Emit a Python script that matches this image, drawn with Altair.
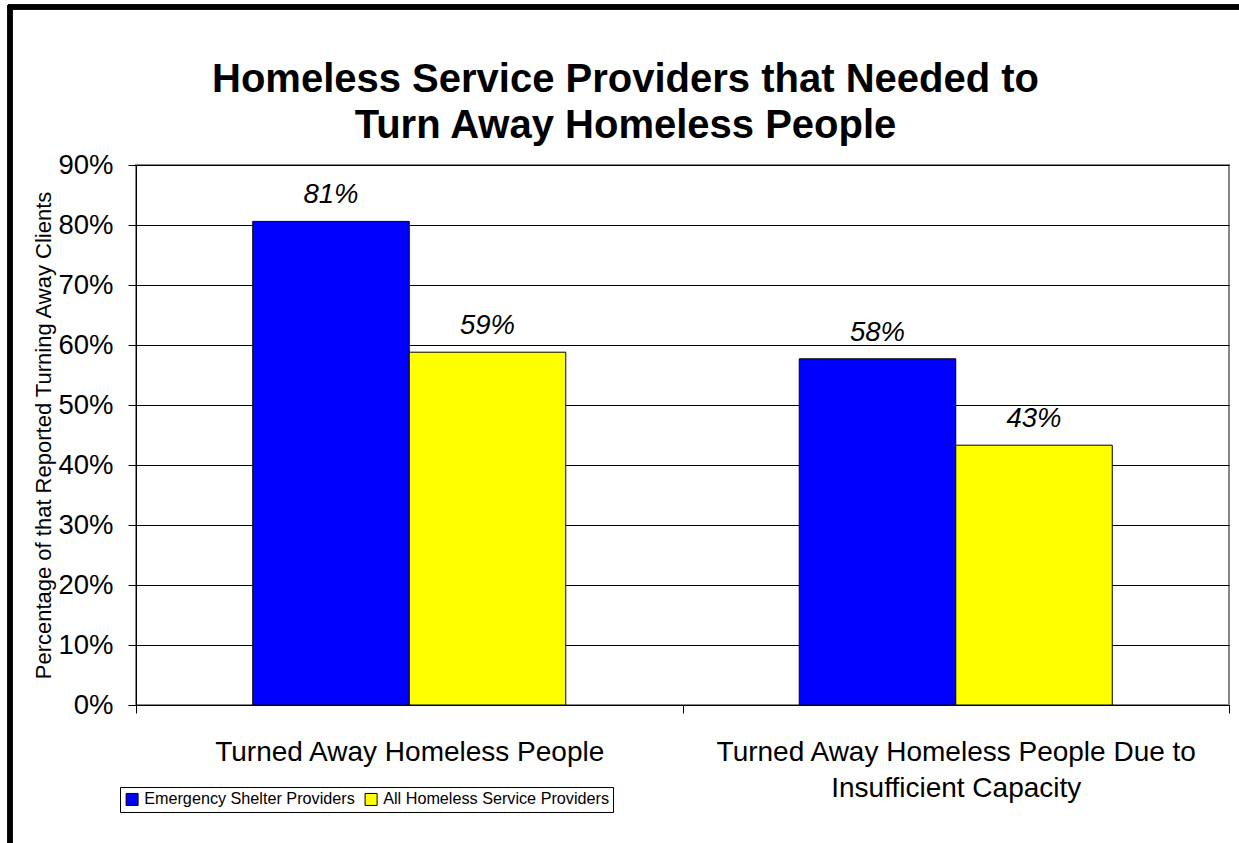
import altair as alt
import pandas as pd

categories = ["Turned Away Homeless People",
              "Turned Away Homeless People Due to Insufficient Capacity"]
series = ["Emergency Shelter Providers", "All Homeless Service Providers"]
emergency_vals = [80.6, 57.7]
all_vals = [58.8, 43.3]
emergency_labels = ["81%", "58%"]
all_labels = ["59%", "43%"]
colors = ["#0000FF", "#FFFF00"]

rows = []
for i, c in enumerate(categories):
    rows.append({"cat": c, "series": series[0], "val": emergency_vals[i], "lab": emergency_labels[i]})
    rows.append({"cat": c, "series": series[1], "val": all_vals[i], "lab": all_labels[i]})
df = pd.DataFrame(rows)

FONT = "Liberation Sans"

x_enc = alt.X("cat:N", sort=categories, title=None,
              scale=alt.Scale(paddingInner=0, paddingOuter=0),
              axis=alt.Axis(labelAngle=0, labelFontSize=28, labelFont=FONT, labelColor="black",
                            labelPadding=25, labelLineHeight=36, labelLimit=0, tickBand="extent",
                            tickSize=8, tickColor="black", domainColor="black",
                            labelExpr="datum.label == 'Turned Away Homeless People Due to Insufficient Capacity' ? ['Turned Away Homeless People Due to', 'Insufficient Capacity'] : datum.label"))
y_enc = alt.Y("val:Q", title="Percentage of that Reported Turning Away Clients",
              scale=alt.Scale(domain=[0, 90], nice=False),
              axis=alt.Axis(values=list(range(0, 91, 10)), labelExpr="datum.value + '%'",
                            labelFontSize=27.5, labelFont=FONT, labelColor="black", labelPadding=15,
                            tickSize=8, tickColor="black", domainColor="black",
                            gridColor="black", gridWidth=1,
                            titleFontSize=22, titleFont=FONT, titleFontWeight="normal",
                            titleColor="black", titlePadding=2))
xoff = alt.XOffset("series:N", sort=series, scale=alt.Scale(paddingInner=0, paddingOuter=0.746))

bars = alt.Chart(df).mark_bar(stroke="black", strokeWidth=1).encode(
    x=x_enc, y=y_enc,
    xOffset=xoff,
    color=alt.Color("series:N", sort=series,
                    scale=alt.Scale(domain=series, range=colors),
                    legend=alt.Legend(title=None, orient="none", legendX=-16, legendY=622,
                                      direction="horizontal", strokeColor="black",
                                      fillColor="white", padding=4, symbolType="square",
                                      symbolSize=144, symbolStrokeColor="black",
                                      symbolStrokeWidth=1, symbolOpacity=1,
                                      labelFontSize=16.2, labelFont=FONT, labelColor="black",
                                      labelLimit=0, columnPadding=8, labelOffset=4))
)

text = alt.Chart(df).mark_text(baseline="alphabetic", dy=-18, fontSize=27.5, font=FONT,
                               fontStyle="italic", color="black").encode(
    x=alt.X("cat:N", sort=categories),
    xOffset=xoff,
    y="val:Q",
    text="lab:N")

border_top = alt.Chart(df).mark_rule(color="black", strokeWidth=5).encode(
    x=alt.value(-128), x2=alt.value(1110), y=alt.value(-158))
border_left = alt.Chart(df).mark_rule(color="black", strokeWidth=5).encode(
    x=alt.value(-126), y=alt.value(-160), y2=alt.value(690))

chart = alt.layer(border_top, border_left, bars, text).properties(
    width=1093, height=540,
    autosize=alt.AutoSizeParams(type="none"),
    padding={"left": 136, "top": 165, "right": 10, "bottom": 138},
    title=alt.TitleParams(["Homeless Service Providers that Needed to", "Turn Away Homeless People"],
                          fontSize=40, font=FONT, fontWeight="bold", color="black",
                          lineHeight=46, anchor="middle", dx=-57, offset=-183, baseline="bottom"),
    background="white"
).configure_view(stroke="#888888", strokeWidth=2).configure_axis(grid=True).configure_axisX(grid=False)

chart.save("out.html", embed_options={"renderer": "svg", "actions": False})
